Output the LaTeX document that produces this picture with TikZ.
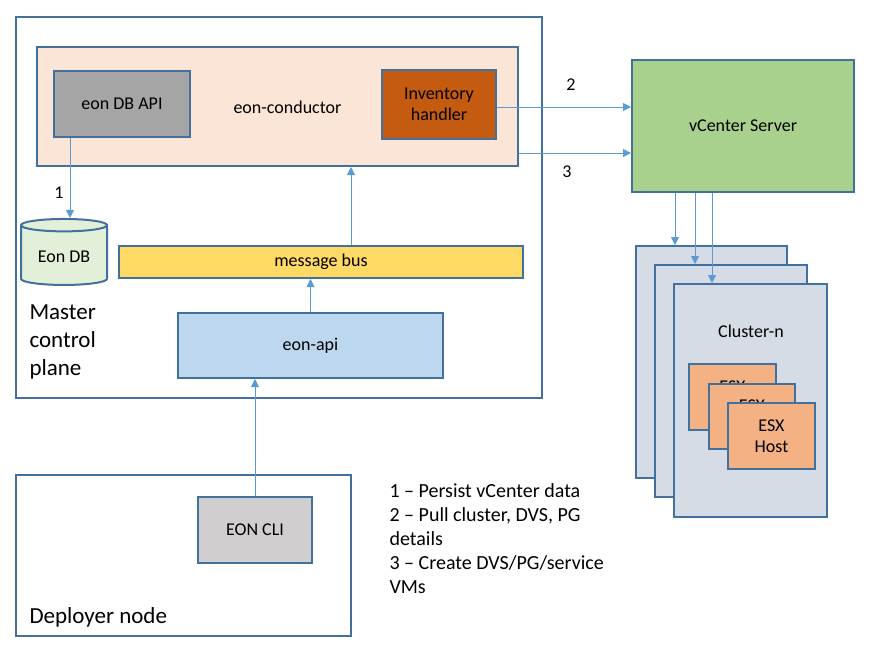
\documentclass[tikz,border=0pt]{standalone}
\usepackage{fontspec}
\setmainfont{Carlito}
\usetikzlibrary{shapes.geometric,arrows.meta}
\definecolor{edge}{RGB}{65,113,156}
\definecolor{arrowblue}{RGB}{91,155,213}
\definecolor{peach}{RGB}{251,229,214}
\definecolor{apigray}{RGB}{165,165,165}
\definecolor{rust}{RGB}{197,90,17}
\definecolor{dbgreen}{RGB}{226,240,217}
\definecolor{busyellow}{RGB}{255,217,102}
\definecolor{apiblue}{RGB}{189,215,238}
\definecolor{cligray}{RGB}{208,206,206}
\definecolor{vcgreen}{RGB}{169,209,142}
\definecolor{clgray}{RGB}{214,220,229}
\definecolor{esxorange}{RGB}{244,177,131}
\begin{document}
\begin{tikzpicture}[x=1pt,y=-1pt]
    \tikzstyle{box}=[draw=edge,line width=2pt,inner sep=2pt,align=center,font=\fontsize{18}{21.5}\selectfont]
    \tikzstyle{arr}=[draw=arrowblue,line width=0.9pt,-{Triangle[length=8pt,width=8pt]}]
    \tikzstyle{txt}=[font=\fontsize{18}{21.5}\selectfont]
    \tikzstyle{big}=[font=\fontsize{23}{28}\selectfont,align=left,anchor=west]
    \useasboundingbox (0,0) rectangle (871,656);
    % master control plane
    \node (master)[box,minimum width=526,minimum height=381] at (279,207.5) {};
    \node (masterlbl)[big] at (26,342) {Master\\control\\plane};
    \node (cond)[box,fill=peach,minimum width=481,minimum height=119] at (277.5,106.5) {};
    \node (condlbl)[txt] at (287.5,107) {eon-conductor};
    \node (dbapi)[box,fill=apigray,minimum width=136,minimum height=66] at (122,104) {eon DB API};
    \node (inv)[box,fill=rust,minimum width=114,minimum height=69] at (439,104.5) {Inventory\\handler};
    \node (eondb)[box,cylinder,shape border rotate=90,aspect=0.22,fill=dbgreen,minimum width=86,minimum height=66] at (64,256.5) {Eon DB};
    \node (bus)[box,fill=busyellow,minimum width=404,minimum height=32] at (321,262) {message bus};
    \node (api)[box,fill=apiblue,minimum width=265,minimum height=65] at (310.5,345.5) {eon-api};
    % deployer node
    \node (deployer)[box,minimum width=335,minimum height=161] at (183.5,555.5) {};
    \node (deplbl)[big] at (26,617) {Deployer node};
    \node (cli)[box,fill=cligray,minimum width=114,minimum height=66] at (255,530) {EON CLI};
    % vcenter and clusters
    \node (vcenter)[box,fill=vcgreen,minimum width=222,minimum height=132] at (743,126) {vCenter Server};
    \node (c1)[box,fill=clgray,minimum width=151,minimum height=232] at (711.5,362) {};
    \node (c2)[box,fill=clgray,minimum width=152,minimum height=232] at (731,381) {};
    \node (c3)[box,fill=clgray,minimum width=153,minimum height=233] at (750.5,400.5) {};
    \node (clbl)[txt] at (751,331) {Cluster-n};
    \node (esx1)[box,fill=esxorange,minimum width=87,minimum height=66] at (732.5,397) {ESX\\Host};
    \node (esx2)[box,fill=esxorange,minimum width=86,minimum height=65] at (752,416.5) {ESX\\Host};
    \node (esx3)[box,fill=esxorange,minimum width=87,minimum height=66] at (771.5,436) {ESX\\Host};
    % connectors
    \draw [arr] ([xshift=-52pt]dbapi.south) -- ([xshift=-52pt]dbapi.south |- eondb.north);
    \draw [arr] ([xshift=30pt]bus.north) -- ([xshift=30pt]bus.north |- cond.south);
    \draw [arr] (api.north) -- (api.north |- bus.south);
    \draw [arr] (cli.north) -- (cli.north |- api.south);
    \draw [arr] ([yshift=-2.5pt]inv.east) -- ([yshift=-2.5pt]inv.east -| vcenter.west);
    \draw [arr] ([yshift=-46.5pt]cond.east) -- ([yshift=-46.5pt]cond.east -| vcenter.west);
    \draw [arr] ([xshift=-36.5pt]c1.north |- vcenter.south) -- ([xshift=-36.5pt]c1.north);
    \draw [arr] ([xshift=-36pt]c2.north |- vcenter.south) -- ([xshift=-36pt]c2.north);
    \draw [arr] ([xshift=-38.5pt]c3.north |- vcenter.south) -- ([xshift=-38.5pt]c3.north);
    \node (n1)[txt] at (59,193) {1};
    \node (n2)[txt] at (571,85) {2};
    \node (n3)[txt] at (567,172) {3};
    % legend
    \node (legend)[anchor=north west,align=left,font=\fontsize{20}{24}\selectfont] at (386,480) {1 -- Persist vCenter data\\2 -- Pull cluster, DVS, PG\\details\\3 -- Create DVS/PG/service\\VMs};
\end{tikzpicture}
\end{document}
